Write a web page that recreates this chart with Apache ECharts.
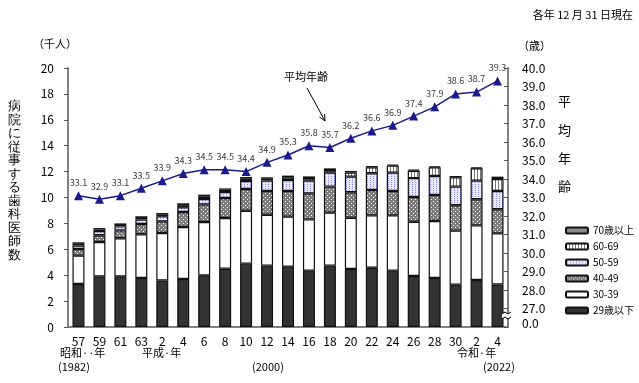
<!DOCTYPE html>
<html><head><meta charset="utf-8">
<script src="https://cdn.jsdelivr.net/npm/echarts@6/dist/echarts.min.js"></script>
<style>html,body{margin:0;padding:0;background:#fff}#c{width:639px;height:383px}</style>
</head><body><div id="c"></div>
<script>
const categories = ['57','59','61','63','2','4','6','8','10','12','14','16','18','20','22','24','26','28','30','2','4'];
const age29under = [3.32,3.91,3.91,3.78,3.60,3.71,3.99,4.50,4.89,4.74,4.66,4.35,4.74,4.48,4.58,4.35,3.94,3.78,3.27,3.63,3.29];
const age30s     = [2.19,2.65,2.94,3.38,3.66,4.01,4.12,3.92,4.09,3.93,3.86,3.96,4.09,3.96,4.04,4.27,4.19,4.41,4.17,4.22,3.94];
const age40s     = [0.51,0.52,0.61,0.79,0.90,1.16,1.36,1.54,1.68,1.83,1.98,2.01,2.01,1.96,1.96,1.88,1.91,2.00,1.96,2.01,1.86];
const age50s     = [0.26,0.33,0.31,0.34,0.39,0.36,0.41,0.46,0.61,0.80,0.85,0.98,1.08,1.21,1.29,1.42,1.46,1.47,1.44,1.44,1.41];
const age60s     = [0.15,0.13,0.11,0.13,0.12,0.16,0.18,0.18,0.18,0.15,0.21,0.20,0.20,0.31,0.46,0.54,0.57,0.67,0.72,0.95,0.93];
const age70over  = [0.11,0.10,0.12,0.13,0.13,0.15,0.16,0.10,0.13,0.11,0.13,0.13,0.13,0.13,0.10,0.08,0.08,0.08,0.10,0.08,0.18];
const avgAge     = [33.1,32.9,33.1,33.5,33.9,34.3,34.5,34.5,34.4,34.9,35.3,35.8,35.7,36.2,36.6,36.9,37.4,37.9,38.6,38.7,39.3];
const leftTicks = [0,2,4,6,8,10,12,14,16,18,20];
const rightTicks = [26,27,28,29,30,31,32,33,34,35,36,37,38,39,40];

function pat(w,h,bg,pts,fg){
  const c=document.createElement('canvas');c.width=w;c.height=h;
  const x=c.getContext('2d');x.fillStyle=bg;x.fillRect(0,0,w,h);x.fillStyle=fg;
  pts.forEach(p=>x.fillRect(p[0],p[1],1,1));
  return {image:c,repeat:'repeat'};
}
const p60 = pat(3,1,'#ffffff',[[0,0]],'#777777');
const p50 = pat(3,2,'#e8e8ff',[[1,0]],'#8c8ce6');
const p40 = pat(4,4,'#7c7c7c',[[1,1],[3,3]],'#ffffff');

const FONT='"Noto Sans CJK JP", sans-serif';
const chart = echarts.init(document.getElementById('c'),null,{renderer:'canvas'});
function bar(name,data,color){
  return {type:'bar',stack:'s',barWidth:12,yAxisIndex:0,name:name,data:data,
    itemStyle:{color:color,borderColor:'#111',borderWidth:1.2}};
}
const leftName='病院に従事する歯科医師数'.split('').join('\n');
chart.setOption({
  animation:false,
  textStyle:{fontFamily:FONT},
  grid:{left:68,right:131,top:68,bottom:56},
  legend:{orient:'vertical',left:560,top:220,itemWidth:22,itemHeight:6,itemGap:5,icon:'roundRect',
    textStyle:{fontSize:10,color:'#000',fontFamily:FONT,lineHeight:11},
    data:['70歳以上','60-69','50-59','40-49','30-39','29歳以下']},
  xAxis:{type:'category',data:categories,
    axisLine:{lineStyle:{color:'#808080',width:2}},axisTick:{show:false},
    axisLabel:{color:'#000',fontSize:12,margin:8,interval:0}},
  yAxis:[
    {type:'value',min:0,max:20,interval:2,position:'left',
      axisLine:{show:true,lineStyle:{color:'#808080',width:2}},
      axisTick:{show:true,length:4,lineStyle:{color:'#555'}},
      splitLine:{show:false},
      axisLabel:{color:'#000',fontSize:12,margin:14,formatter:v=>leftTicks.includes(v)?String(v):''}},
    {type:'value',min:26,max:40,interval:1,position:'right',
      axisLine:{show:true,lineStyle:{color:'#808080',width:2}},
      axisTick:{show:true,inside:true,length:4,lineStyle:{color:'#555'}},
      splitLine:{show:false},
      axisLabel:{color:'#000',fontSize:12,margin:14,
        formatter:v=>v===26?'{z|0.0}':(rightTicks.includes(v)?v.toFixed(1):''),
        rich:{z:{fontSize:12,color:'#000',padding:[0,0,7,0]}}}}
  ],
  series:[
    bar('29歳以下',age29under,'#333333'),
    bar('30-39',age30s,'#ffffff'),
    bar('40-49',age40s,p40),
    bar('50-59',age50s,p50),
    bar('60-69',age60s,p60),
    bar('70歳以上',age70over,'#8a8a8a'),
    {type:'line',name:'平均年齢',yAxisIndex:1,data:avgAge,symbol:'triangle',symbolSize:9,
      lineStyle:{color:'#1a1a8c',width:1.5},itemStyle:{color:'#1a1a8c'},
      label:{show:true,position:'top',distance:4,fontSize:9,color:'#3a3a3a',formatter:p=>p.value.toFixed(1)},
      z:10}
  ],
  graphic:[
    {type:'text',left:8,top:100,style:{text:leftName,fontSize:13,lineHeight:13.5,fill:'#000',font:'13px '+FONT}},
    {type:'text',left:33,top:38,style:{text:'（千人）',fill:'#000',font:'11px '+FONT}},
    {type:'text',left:518,top:40,style:{text:'（歳）',fill:'#000',font:'11px '+FONT}},
    {type:'text',right:6,top:9,style:{text:'各年 12 月 31 日現在',fill:'#000',font:'11px '+FONT}},
    {type:'text',left:558,top:95,style:{text:'平',fill:'#000',font:'13px '+FONT}},
    {type:'text',left:558,top:124,style:{text:'均',fill:'#000',font:'13px '+FONT}},
    {type:'text',left:558,top:152,style:{text:'年',fill:'#000',font:'13px '+FONT}},
    {type:'text',left:558,top:180,style:{text:'齢',fill:'#000',font:'13px '+FONT}},
    {type:'text',left:284,top:71,style:{text:'平均年齢',fill:'#000',font:'11px '+FONT}},
    {type:'line',shape:{x1:307,y1:88,x2:325,y2:121},style:{stroke:'#000',lineWidth:1}},
    {type:'polyline',shape:{points:[[324.6,114],[325,121],[319.4,116.9]]},style:{stroke:'#000',lineWidth:1,fill:null}},
    {type:'text',left:60,top:347,style:{text:'昭和··年',fill:'#000',font:'11px '+FONT}},
    {type:'text',left:58,top:361,style:{text:'(1982)',fill:'#000',font:'11px '+FONT}},
    {type:'text',left:142,top:347,style:{text:'平成·年',fill:'#000',font:'11px '+FONT}},
    {type:'text',left:252,top:361,style:{text:'(2000)',fill:'#000',font:'11px '+FONT}},
    {type:'text',left:457,top:347,style:{text:'令和·年',fill:'#000',font:'11px '+FONT}},
    {type:'text',left:483,top:361,style:{text:'(2022)',fill:'#000',font:'11px '+FONT}},
    {type:'rect',shape:{x:502,y:313,width:10,height:5},style:{fill:'#fff'},z:100},
    {type:'polyline',shape:{points:[[502,314],[505,312],[508,314],[511,312]]},style:{stroke:'#000',lineWidth:1,fill:null},z:101},
    {type:'polyline',shape:{points:[[502,319],[505,317],[508,319],[511,317]]},style:{stroke:'#000',lineWidth:1,fill:null},z:101}
  ]
});
</script></body></html>
